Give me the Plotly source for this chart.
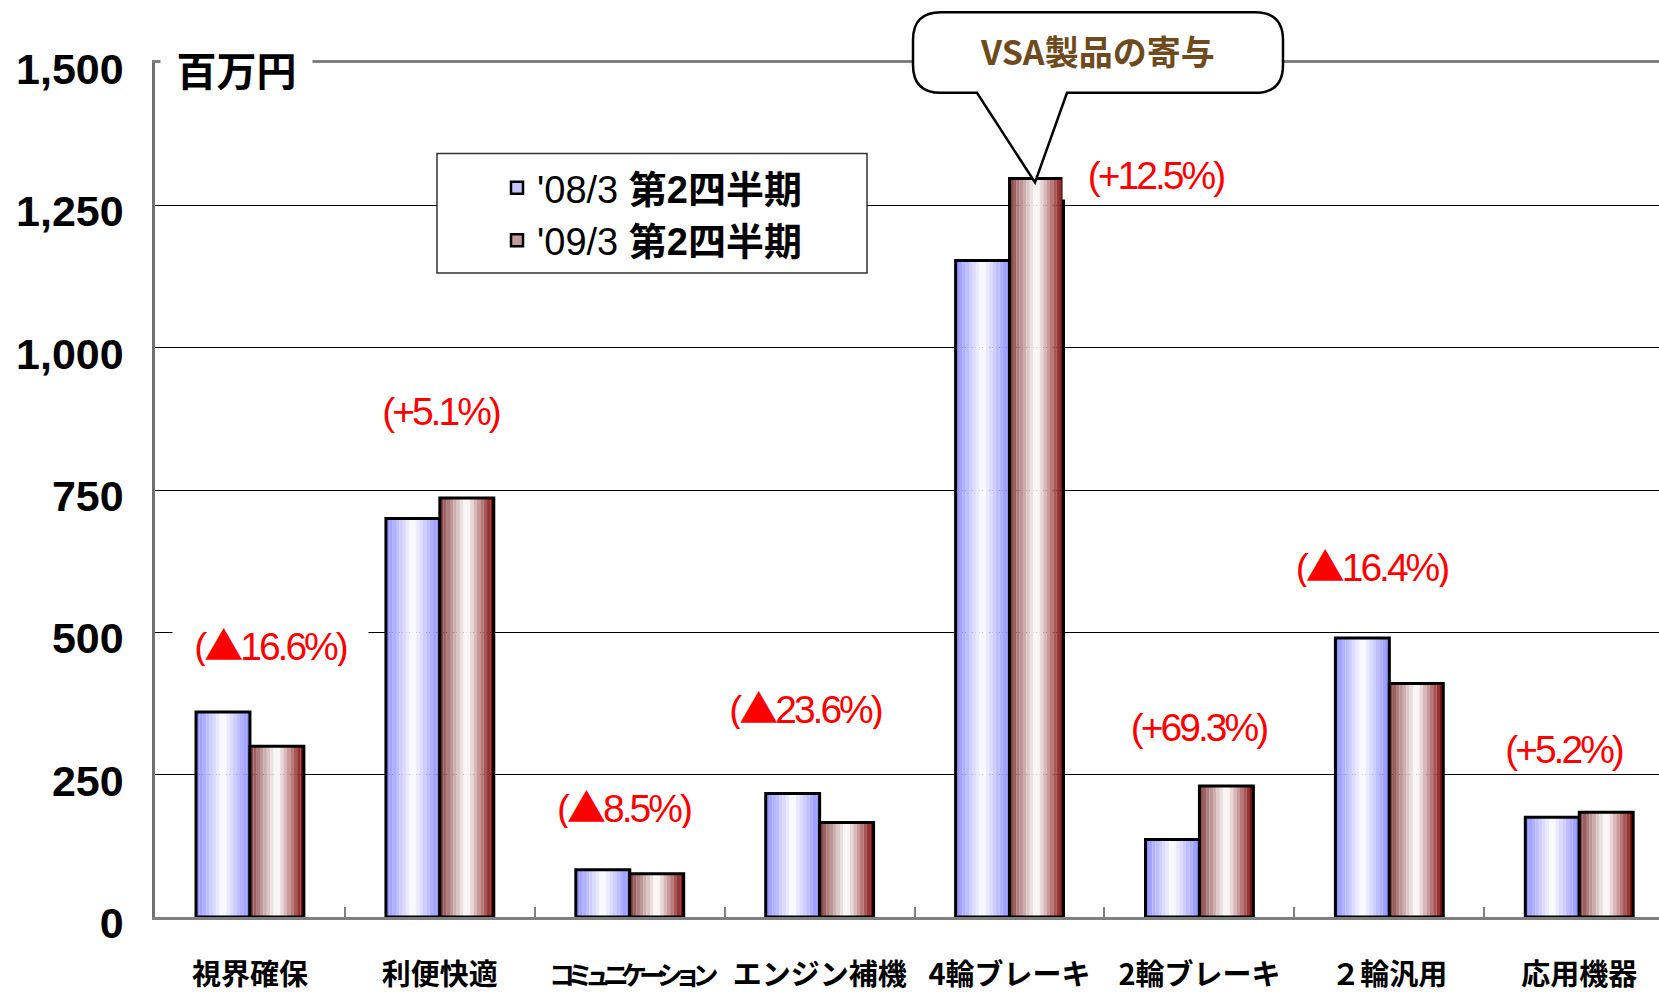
import plotly.graph_objects as go

# ---------------- data ----------------
categories = ["視界確保", "利便快適", "コミュニケーション", "エンジン補機",
              "4輪ブレーキ", "2輪ブレーキ", "２輪汎用", "応用機器"]
q2_fy2008 = [360, 700, 83, 217, 1153, 136, 490, 175]
q2_fy2009 = [300, 736, 76, 166, 1297, 230, 410, 184]
change_labels = ["(▲16.6%)", "(+5.1%)", "(▲8.5%)", "(▲23.6%)",
                 "(+12.5%)", "(+69.3%)", "(▲16.4%)", "(+5.2%)"]
series_names = ["'08/3 <b>第2四半期</b>", "'09/3 <b>第2四半期</b>"]
y_tick_values = [0, 250, 500, 750, 1000, 1250, 1500]
y_tick_labels = ["0", "250", "500", "750", "1,000", "1,250", "1,500"]
unit_label = "百万円"
callout_text = "VSA製品の寄与"

# ---------------- layout constants ----------------
W, H = 1659, 993
ML, MR, MT, MB = 155, 0, 63, 72
PW, PH = W - ML - MR, H - MT - MB


def px_x(p):
    return (p - ML) / PW


def px_y(p):
    return (H - MB - p) / PH


BAR_W = 0.284
N_STRIPES = 16


def mix(c, f):
    return "rgb(%d,%d,%d)" % tuple(round(255 * (1 - f) + ci * f) for ci in c)


def stripe_colors(left_edge, right_edge, power):
    cols = []
    for i in range(N_STRIPES):
        t = abs(2 * (i + 0.5) / N_STRIPES - 1)
        f = t ** power
        edge = left_edge if i < N_STRIPES / 2 else right_edge
        cols.append(mix(edge, f))
    return cols


blue_cols = stripe_colors((140, 140, 255), (140, 140, 255), 1.0)
brown_cols = stripe_colors((130, 55, 55), (120, 0, 0), 1.1)

fig = go.Figure()

# legend-only entries
fig.add_trace(go.Bar(x=[None], y=[None], name=series_names[0],
                     marker=dict(color="#c6c6ff", line=dict(color="black", width=2.5))))
fig.add_trace(go.Bar(x=[None], y=[None], name=series_names[1],
                     marker=dict(color="#c49a9a", line=dict(color="black", width=2.5))))

sw = BAR_W / N_STRIPES
for vals, cols, base in [(q2_fy2008, blue_cols, -BAR_W), (q2_fy2009, brown_cols, 0.0)]:
    for i, c in enumerate(cols):
        fig.add_trace(go.Bar(x=categories, y=vals, width=sw * 1.02, offset=base + i * sw,
                             marker=dict(color=c, line=dict(width=0)),
                             showlegend=False, hoverinfo="skip"))
    fig.add_trace(go.Bar(x=categories, y=vals, width=BAR_W, offset=base,
                         marker=dict(color="rgba(0,0,0,0)", line=dict(color="black", width=3)),
                         showlegend=False))

# percent-change labels
label_shift_px = [21, 1, -6, -14, 146, 0, -17, -15]
label_y = [481, 888, 197, 370, 1304, 334, 620, 295]
label_box_w = [193, 158, 160, 191, 184, 180, 194, 156]


def fmt_label(t):
    t = t.replace("▲", '<span style="font-family:Noto Sans CJK JP">▲</span>')
    return '<span style="letter-spacing:-3px">%s</span>' % t


annotations = []
for i, txt in enumerate(change_labels):
    annotations.append(dict(x=categories[i], y=label_y[i], xref="x", yref="y",
                            xshift=label_shift_px[i],
                            text=fmt_label(txt),
                            showarrow=False, xanchor="center", yanchor="middle",
                            font=dict(family="Liberation Sans", size=39, color="#ff0000"),
                            bgcolor="white", width=label_box_w[i], height=46))

annotations.append(dict(x=px_x(236), y=px_y(69), xref="paper", yref="paper", text="<b>%s</b>" % unit_label,
                        xanchor="center", yanchor="middle",
                        showarrow=False, font=dict(family="Noto Sans CJK JP", size=40, color="black"),
                        bgcolor="white", width=149))
annotations.append(dict(x=px_x(1097), y=px_y(50), xref="paper", yref="paper", text="<b>%s</b>" % callout_text,
                        xanchor="center", yanchor="middle",
                        showarrow=False, font=dict(family="Noto Sans CJK JP", size=34, color="#6e4a1c")))

# callout bubble
pts = [("M", 941, 12), ("L", 1255, 12), ("Q", 1283, 12, 1283, 40), ("L", 1283, 65),
       ("Q", 1283, 93, 1255, 93), ("L", 1067, 93), ("L", 1035, 183), ("L", 977, 93),
       ("L", 941, 93), ("Q", 913, 93, 913, 65), ("L", 913, 40), ("Q", 913, 12, 941, 12)]
path = ""
for p in pts:
    cmd, coords = p[0], p[1:]
    xy = []
    for j in range(0, len(coords), 2):
        xy.append("%.5f,%.5f" % (px_x(coords[j]), px_y(coords[j + 1])))
    path += cmd + " ".join(xy) + " "
path += "Z"

shapes = [
    dict(type="rect", xref="paper", yref="paper", x0=px_x(437), x1=px_x(867), y0=px_y(154), y1=px_y(274),
         line=dict(color="#333333", width=1.5), fillcolor="white", layer="above"),
    dict(type="path", xref="paper", yref="paper", path=path,
         line=dict(color="black", width=2.5), fillcolor="white", layer="above"),
]

tick_text = [c if c != "コミュニケーション" else
             '<span style="font-size:26px;letter-spacing:-8px">%s</span>' % c for c in categories]

fig.update_layout(
    width=W, height=H,
    margin=dict(l=ML, r=MR, t=MT, b=MB, pad=0),
    paper_bgcolor="white", plot_bgcolor="white",
    barmode="overlay",
    showlegend=True,
    legend=dict(x=px_x(497), y=px_y(157), xanchor="left", yanchor="top",
                bgcolor="rgba(0,0,0,0)", borderwidth=0,
                font=dict(family="Liberation Sans, Noto Sans CJK JP", size=38, color="black"),
                traceorder="normal", itemclick=False, tracegroupgap=0),
    annotations=annotations,
    shapes=shapes,
    xaxis=dict(type="category", categoryorder="array", categoryarray=categories,
               tickvals=categories, ticktext=tick_text,
               range=[-0.5, 7.42], tickson="boundaries",
               ticks="inside", ticklen=10, tickwidth=1.5, tickcolor="#808080",
               showline=True, linecolor="#808080", linewidth=2.5, mirror=True,
               showgrid=False, zeroline=False,
               tickfont=dict(family="Noto Sans CJK JP", size=29, color="black", weight="bold"),
               ticklabelstandoff=30),
    yaxis=dict(range=[0, 1500], tickvals=y_tick_values, ticktext=y_tick_labels,
               showgrid=True, gridcolor="black", gridwidth=1,
               showline=True, linecolor="#707070", linewidth=2.5,
               zeroline=False, ticks="",
               tickfont=dict(family="Liberation Sans", size=43, color="black", weight="bold"),
               ticklabelstandoff=20, ticklabelshift=6),
)

fig.write_html("out.html", config={"displayModeBar": False},
               post_script="document.body.style.margin='0';document.body.style.overflow='hidden';")
